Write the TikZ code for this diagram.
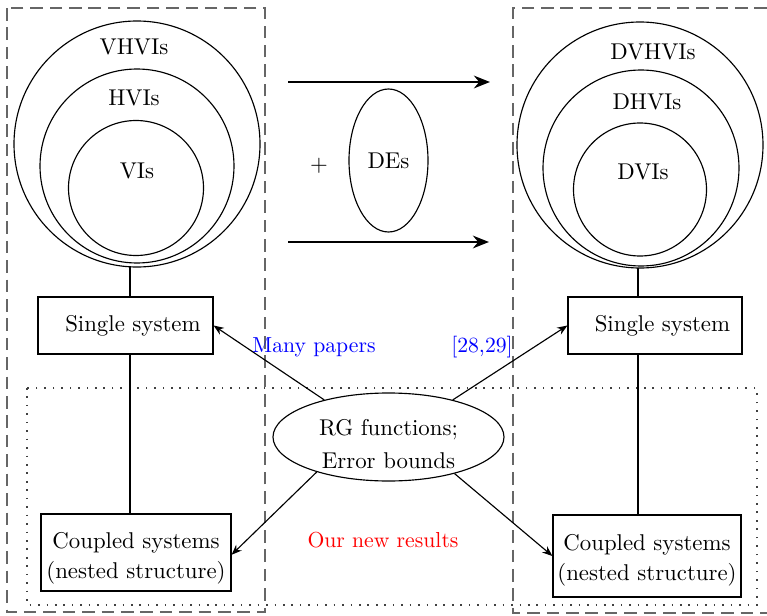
\documentclass[tikz,border=0pt]{standalone}
\usetikzlibrary{shapes.geometric}
\usetikzlibrary{positioning}
\usetikzlibrary{arrows.meta}
\usepackage{xcolor}
\newcommand{\pxu}{0.0154cm}

\begin{document}
\begin{tikzpicture}[x=0.0154cm, y=-0.0154cm, line width=0.5pt,
    set/.style={draw, circle, inner sep=0pt},
    sysbox/.style={draw, rectangle, align=center, inner sep=0pt},
    region/.style={draw=black!60, line width=0.6pt, dash pattern=on 5.5pt off 3pt},
    newregion/.style={draw=black!75, line width=0.7pt, dash pattern=on 0.7pt off 3pt},
    link/.style={-{Stealth[length=4.5pt,width=3.5pt]}},
    bigarrow/.style={very thick, -{Stealth[length=7pt,width=5.5pt]}},
    remark/.style={font=\fontsize{9.5}{11}\selectfont}]
            \useasboundingbox (0,0) rectangle (767,616);
            % frames
            \draw[region] (7,8) rectangle (265,612);
            \draw[region] (767,8) -- (513,8) -- (513,613) -- (767,613);
            \draw[newregion] (27,388) rectangle (757,605);

            % variational inequalities
            \node[set, minimum size=246*\pxu] (vhvi) at (137,144) {};
            \node[set, minimum size=194*\pxu] (hvi) at (137,166) {};
            \node[set, minimum size=135*\pxu] (vi) at (136,188) {};
            \node (vhvitext) at (134,47) {VHVIs};
            \node (hvitext) at (134,98) {HVIs};
            \node (vitext) at (137,171) {VIs};

            % differential variational inequalities
            \node[set, minimum size=246*\pxu] (dvhvi) at (640,145) {};
            \node[set, minimum size=196*\pxu] (dhvi) at (641,168) {};
            \node[set, minimum size=133*\pxu] (dvi) at (640,189.5) {};
            \node (dvhvitext) at (653,52) {DVHVIs};
            \node (dhvitext) at (647,102) {DHVIs};
            \node (dvitext) at (643,172) {DVIs};

            \node[sysbox, minimum width=175*\pxu, minimum height=57*\pxu] (single1) at (125.5,325.5) {\hspace{6.5pt}Single system};
            \node[sysbox, minimum width=190*\pxu, minimum height=77*\pxu] (coupled1) at (136,552.5) {\rule{0pt}{12pt}Coupled systems\\[1pt](nested structure)};
            \node[sysbox, minimum width=174*\pxu, minimum height=57*\pxu] (single2) at (655,325.5) {\hspace{6.5pt}Single system};
            \node[sysbox, minimum width=188*\pxu, minimum height=82*\pxu] (coupled2) at (647,556) {\rule{0pt}{11pt}Coupled systems\\[1pt](nested structure)};

            \coordinate (stem1) at (130,266);
            \coordinate (stem2) at (638,268);
            \draw (stem1) -- (stem1 |- single1.north);
            \draw (single1.south -| stem1) -- (coupled1.north -| stem1);
            \draw (stem2) -- (stem2 |- single2.north);
            \draw (single2.south -| stem2) -- (coupled2.north -| stem2);

            % adding differential equations
            \node (plus) at (319,166) {$+$};
            \node[draw, ellipse, minimum width=79*\pxu, minimum height=143*\pxu, inner sep=0pt] (de) at (388.5,160.5) {DEs};
            \coordinate (topstart) at (288,82);
            \coordinate (topend) at (490,82);
            \coordinate (botstart) at (288,242);
            \coordinate (botend) at (489,242);
            \draw[bigarrow] (topstart) -- (topend);
            \draw[bigarrow] (botstart) -- (botend);

            % tools
            \node[draw, ellipse, minimum width=231*\pxu, minimum height=88*\pxu, inner sep=0pt] (rg) at (388.5,437) {};
            \node[align=center] (rgtext) at (388.5,444.5) {RG functions;\\[2.5pt]Error bounds};
            \draw[link] (rg.150) -- (single1.east);
            \draw[link] (rg.30) -- (single2.west);
            \draw[link] (rg.206) -- ([yshift=-1pt]coupled1.east);
            \draw[link] (rg.-29) -- (coupled2.west);

            \node[remark, text=blue] (many) at (314,347) {Many papers};
            \node[remark, text=blue] (cited) at (482,347) {[28,29]};
            \node[remark, text=red] (ours) at (383,540) {Our new results};
\end{tikzpicture}
\end{document}
